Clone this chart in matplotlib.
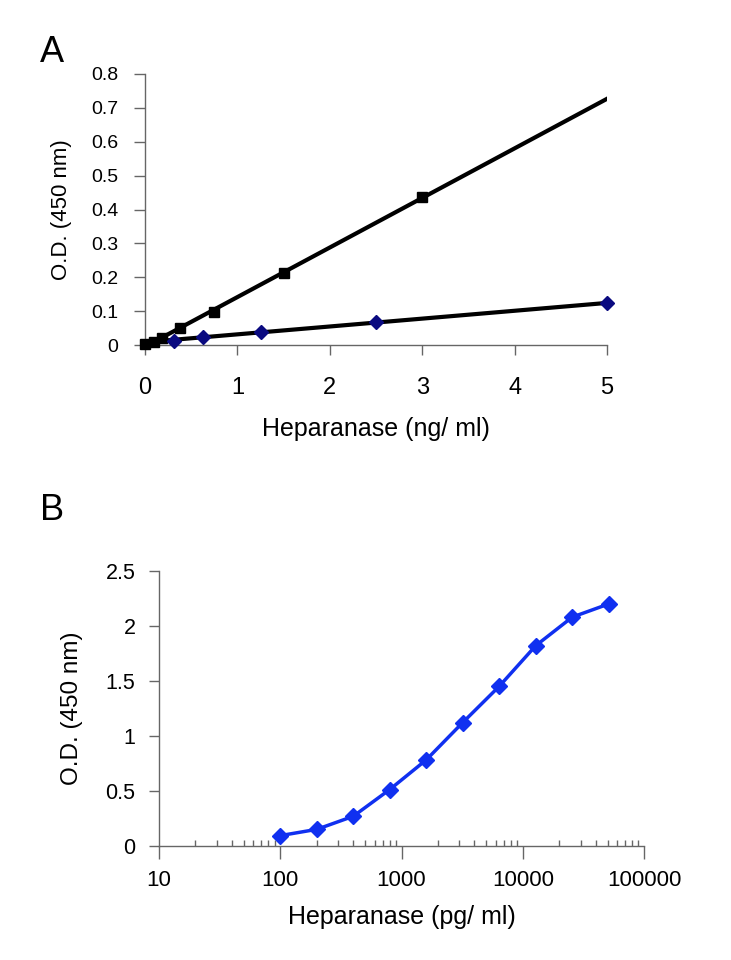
import numpy as np
import matplotlib
matplotlib.use("Agg")
import matplotlib.pyplot as plt
from matplotlib.ticker import LogLocator, NullFormatter, FixedLocator

plt.rcParams['font.family'] = ['Liberation Sans', 'DejaVu Sans']

# panel A data (ng/ml)
conc_sq = [0, 0.09375, 0.1875, 0.375, 0.75, 1.5, 3]
od_sq = [0.003, 0.010, 0.020, 0.050, 0.097, 0.213, 0.437]
conc_dia = [0.3125, 0.625, 1.25, 2.5, 5]
od_dia = [0.012, 0.024, 0.039, 0.068, 0.123]
a_xticks = [0, 1, 2, 3, 4, 5]
a_yticks = [0, 0.1, 0.2, 0.3, 0.4, 0.5, 0.6, 0.7, 0.8]

# panel B data (pg/ml)
conc_b = [100, 200, 400, 800, 1600, 3200, 6400, 12800, 25600, 51200]
od_b = [0.09, 0.147, 0.266, 0.51, 0.78, 1.12, 1.45, 1.82, 2.08, 2.2]
b_yticks = [0, 0.5, 1, 1.5, 2, 2.5]
b_xticks = [10, 100, 1000, 10000, 100000]

spine_col = "#666666"

fig = plt.figure(figsize=(7.31, 9.60), dpi=100)

# ---------------- panel A ----------------
axA = fig.add_axes([145/731, 1-345/960, 462/731, 271/960])
xfit = np.linspace(0, 5, 50)
p1 = np.polyfit(conc_sq, od_sq, 1)
p2 = np.polyfit(conc_dia, od_dia, 1)
axA.plot(xfit, np.polyval(p1, xfit), color="black", lw=3, zorder=2)
axA.plot(xfit, np.polyval(p2, xfit), color="black", lw=3, zorder=2)
axA.plot(conc_sq, od_sq, "s", color="black", ms=7, clip_on=False, zorder=3)
axA.plot(conc_dia, od_dia, "D", color="#0a0a80", ms=7, clip_on=False, zorder=3)

axA.set_xlim(0, 5)
axA.set_ylim(0, 0.8)
axA.set_xticks(a_xticks)
axA.set_xticklabels([str(t) for t in a_xticks])
axA.set_yticks(a_yticks)
axA.set_yticklabels(["0"] + ["%.1f" % t for t in a_yticks[1:]])
for s in ["top", "right"]:
    axA.spines[s].set_visible(False)
for s in ["left", "bottom"]:
    axA.spines[s].set_color(spine_col)
    axA.spines[s].set_linewidth(1)
axA.tick_params(axis="y", direction="out", length=8, width=1, color=spine_col,
                labelsize=14, pad=11)
axA.tick_params(axis="x", direction="out", length=7, width=1, color=spine_col,
                labelsize=17, pad=16)
axA.set_xlabel("Heparanase (ng/ ml)", fontsize=18, labelpad=13)
axA.set_ylabel("O.D. (450 nm)", fontsize=16, labelpad=14)
fig.text(40/731, 1-62/960, "A", fontsize=26)

# ---------------- panel B ----------------
axB = fig.add_axes([159/731, 1-845.5/960, 485/731, 274.5/960])
axB.plot(conc_b, od_b, "-D", color="#1030f0", lw=2.5, ms=8, clip_on=False)
axB.set_xscale("log")
axB.set_xlim(10, 100000)
axB.set_ylim(0, 2.5)
axB.xaxis.set_major_locator(FixedLocator(b_xticks))
axB.set_xticklabels([str(t) for t in b_xticks])
axB.xaxis.set_minor_locator(LogLocator(base=10, subs=np.arange(2, 10)))
axB.xaxis.set_minor_formatter(NullFormatter())
axB.set_yticks(b_yticks)
axB.set_yticklabels(["0", "0.5", "1", "1.5", "2", "2.5"])
for s in ["top", "right"]:
    axB.spines[s].set_visible(False)
for s in ["left", "bottom"]:
    axB.spines[s].set_color(spine_col)
    axB.spines[s].set_linewidth(1)
axB.tick_params(axis="y", direction="out", length=7, width=1, color=spine_col,
                labelsize=15.5, pad=10)
axB.tick_params(axis="x", which="major", direction="out", length=9, width=1,
                color=spine_col, labelsize=16, pad=9)
axB.tick_params(axis="x", which="minor", direction="in", length=4, width=1,
                color=spine_col)
axB.set_xlabel("Heparanase (pg/ ml)", fontsize=18, labelpad=10)
axB.set_ylabel("O.D. (450 nm)", fontsize=17.5, labelpad=16)
fig.text(40/731, 1-520/960, "B", fontsize=26)

plt.savefig("out.png", dpi=100)
